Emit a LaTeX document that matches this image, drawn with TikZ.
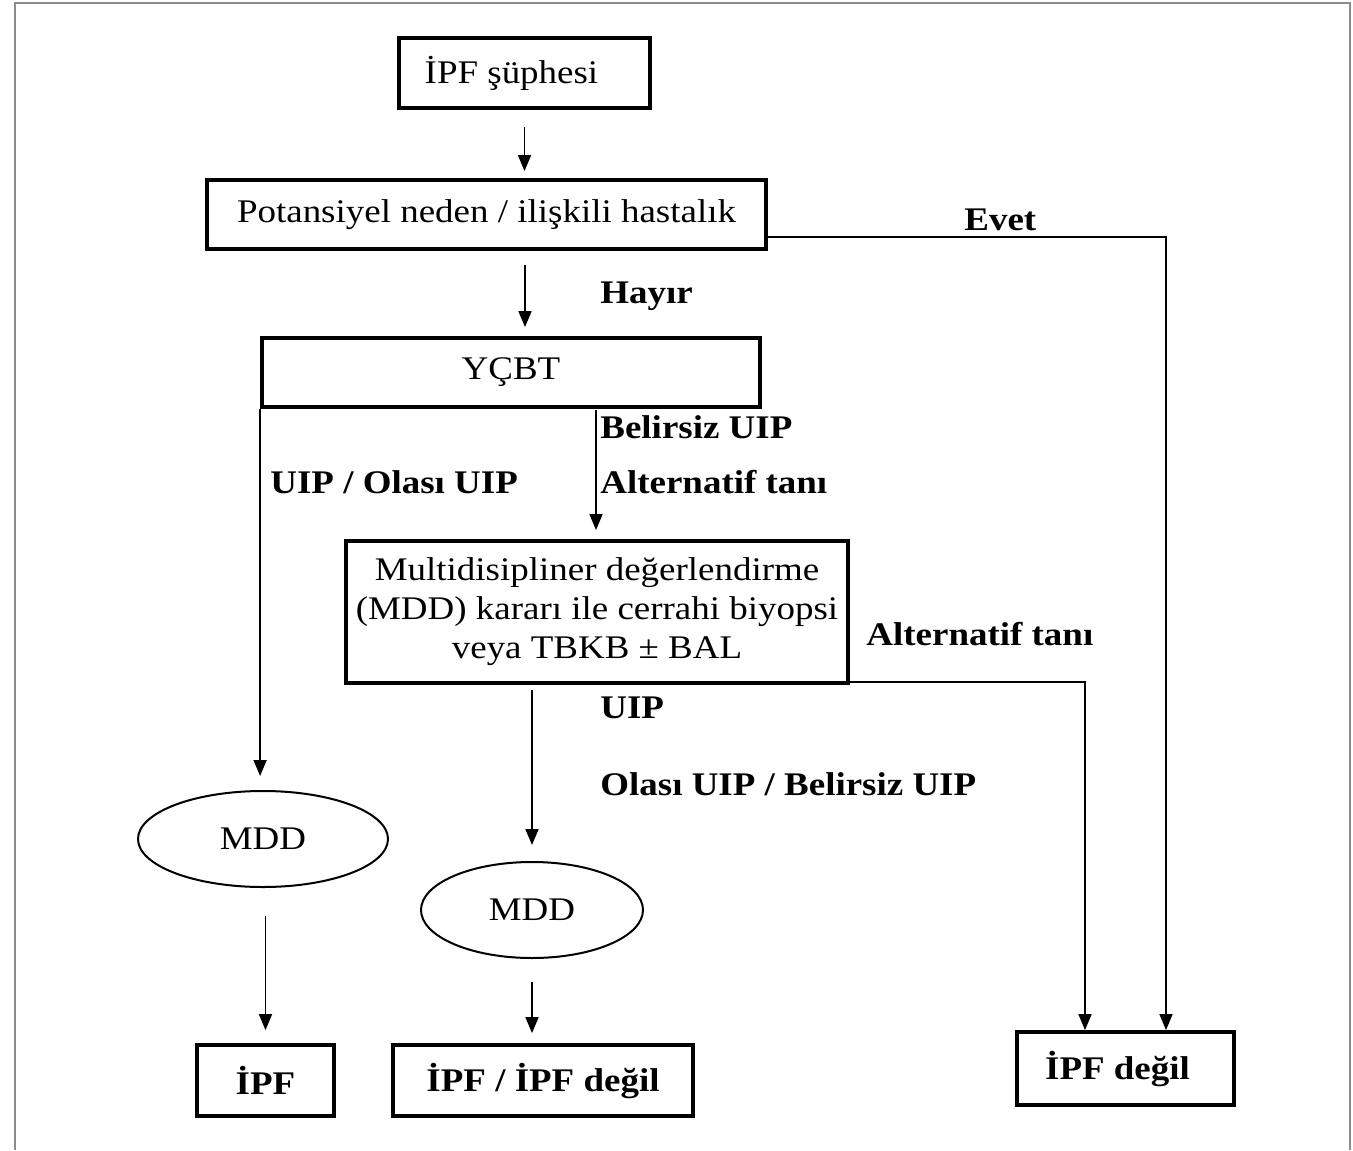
\documentclass[tikz,border=0pt]{standalone}
\usepackage{fontspec}
\setmainfont{Liberation Serif}[FakeStretch=1.12]
\usetikzlibrary{arrows.meta,shapes.geometric}
\begin{document}
\begin{tikzpicture}[x=0.5pt,y=-0.5pt,
  txt/.style={font=\fontsize{16.5}{19.5}\selectfont},
  box/.style={txt, draw, line width=1.9pt, inner sep=0pt, align=center},
  ell/.style={txt, draw, ellipse, line width=1pt, inner sep=0pt},
  bbox/.style={box, font=\fontsize{16.5}{19.5}\selectfont\bfseries},
  lbl/.style={font=\fontsize{16.5}{19.5}\selectfont\bfseries, inner sep=0pt, anchor=base west},
  arr/.style={line width=0.8pt, -{Triangle[length=8pt,width=6.5pt]}}]
\useasboundingbox (0,0) rectangle (1353,1150);
\fill[white] (0,0) rectangle (1353,1150);
\draw[black!45, line width=1pt] (15,1150) -- (15,3) -- (1350,3) -- (1350,1150);

% boxes
\node[box, minimum width=125.5pt, minimum height=35pt] (b1) at (524.5,73) {İPF şüphesi\hspace{13pt}};
\node[box, minimum width=279.5pt, minimum height=34.5pt] (b2) at (486.5,214.5) {Potansiyel neden / ilişkili hastalık};
\node[box, minimum width=249pt, minimum height=34.5pt] (b3) at (511,372.5) {YÇBT};
\node[box, minimum width=251pt, minimum height=71pt] (b4) at (597,612) {Multidisipliner değerlendirme\\(MDD) kararı ile cerrahi biyopsi\\veya TBKB ± BAL};
\node[ell, minimum width=125pt, minimum height=48pt] (e1) at (263,839) {MDD};
\node[ell, minimum width=111pt, minimum height=48pt] (e2) at (532,910) {MDD};
\node[bbox, minimum width=68.5pt, minimum height=35.5pt] (b5) at (265.5,1080.5) {İPF};
\node[bbox, minimum width=150pt, minimum height=35.5pt] (b6) at (543,1080.5) {İPF / İPF değil};
\node[bbox, minimum width=108.5pt, minimum height=36.5pt] (b7) at (1125.5,1068.5) {\raisebox{2.5pt}{İPF değil}\hspace{8pt}};

% helper coordinates
\coordinate (c2) at (525,249);
\coordinate (ev) at (766,237);
\coordinate (c3) at (596,407);
\coordinate (c4) at (532,683);

% connectors
\draw[arr, shorten <=8.5pt, shorten >=3.5pt] (b1.south) -- (b1.south |- b2.north);
\draw[arr, shorten <=8pt, shorten >=4.5pt] (c2) -- (c2 |- b3.north);
\draw[arr] (ev) -| ([xshift=20.25pt]b7.north);
\draw[arr, shorten >=7pt] (b3.south west) -- (b3.south west |- e1.north);
\draw[arr, shorten <=1.5pt, shorten >=4.5pt] (c3) -- (c3 |- b4.north);
\draw[arr, shorten <=3.5pt, shorten >=8pt] (c4) -- (c4 |- e2.north);
\draw[arr] ([yshift=1.5pt]b4.south east) -| ([xshift=-20.25pt]b7.north);
\draw[arr, shorten <=14pt, shorten >=6.5pt] (e1.south -| b5.north) -- (b5.north);
\draw[arr, shorten <=11.5pt, shorten >=5pt] (e2.south) -- (e2.south |- b6.north);

% labels
\node[lbl] (lev) at (964,230) {Evet};
\node[lbl] (lha) at (600,303) {Hayır};
\node[lbl] (luo) at (270,493) {UIP / Olası UIP};
\node[lbl] (lbe) at (600,438) {Belirsiz UIP};
\node[lbl] (lal1) at (600,493) {Alternatif tanı};
\node[lbl] (lal2) at (866,645) {Alternatif tanı};
\node[lbl] (lu) at (600,718) {UIP};
\node[lbl] (lob) at (600,795) {Olası UIP / Belirsiz UIP};
\end{tikzpicture}
\end{document}
